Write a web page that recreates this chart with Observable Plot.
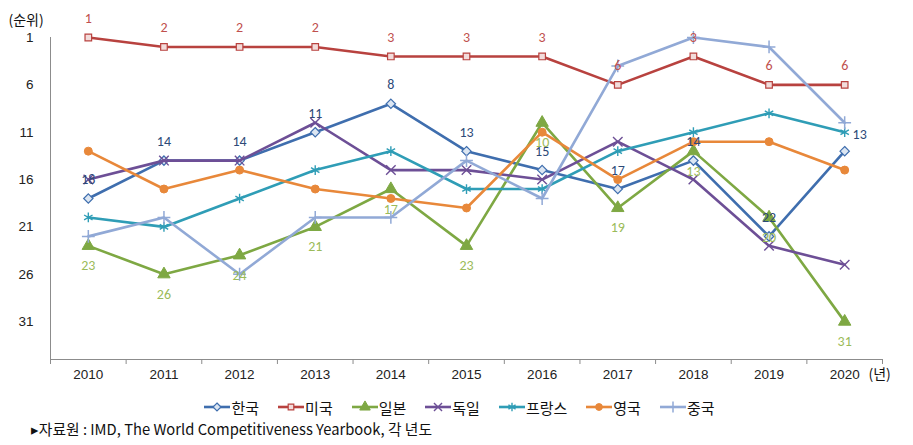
<!DOCTYPE html>
<html>
<head>
<meta charset="utf-8">
<script src="https://cdn.jsdelivr.net/npm/d3@7"></script>
<script src="https://cdn.jsdelivr.net/npm/@observablehq/plot@0.6"></script>
<style>
  body { margin: 0; background: #fff; }
  #wrap { width: 913px; height: 445px; overflow: hidden; position: relative; font-family: "Noto Sans CJK KR", "Noto Sans", sans-serif; }
  #legend { display: flex; justify-content: center; align-items: center; gap: 19px; height: 24px; font-size: 15px; color: #111; padding-left: 6px; }
  #legend .item { display: flex; align-items: center; }
  #legend svg { display: block; margin-right: 1px; }
  #caption { display: block; }
</style>
</head>
<body>
<div id="wrap">
  <div id="chart"></div>
  <div id="legend"></div>
  <svg id="caption" width="913" height="26"></svg>
</div>
<script>
// ---- data ----
const years = [2010, 2011, 2012, 2013, 2014, 2015, 2016, 2017, 2018, 2019, 2020];
const seriesNames = ["한국", "미국", "일본", "독일", "프랑스", "영국", "중국"];
const korea   = [18, 14, 14, 11, 8, 13, 15, 17, 14, 22, 13];
const usa     = [1, 2, 2, 2, 3, 3, 3, 6, 3, 6, 6];
const japan   = [23, 26, 24, 21, 17, 23, 10, 19, 13, 20, 31];
const germany = [16, 14, 14, 10, 15, 15, 16, 12, 16, 23, 25];
const france  = [20, 21, 18, 15, 13, 17, 17, 13, 11, 9, 11];
const uk      = [13, 17, 15, 17, 18, 19, 11, 16, 12, 12, 15];
const china   = [22, 20, 26, 20, 20, 14, 18, 4, 1, 2, 10];
const yTicks  = [1, 6, 11, 16, 21, 26, 31];
const yLabel  = "(순위)";
const xUnit   = "(년)";
const source  = "▸자료원 : IMD, The World Competitiveness Yearbook, 각 년도";

// ---- styles ----
const seriesValues = [korea, usa, japan, germany, france, uk, china];
const styles = [
  {stroke: "#3F6EAE", symbol: "diamond2", fill: "#DCE6F2", r: 4.2, sw: 1.2},
  {stroke: "#B8423F", symbol: "square2", fill: "#F2DCDB", r: 4.2, sw: 1.2},
  {stroke: "#7EA843", symbol: "triangle", fill: "#7EA843", r: 4.6, sw: 1},
  {stroke: "#6D4F96", symbol: "times", fill: "none", r: 4.4, sw: 1.4},
  {stroke: "#2F9DB6", symbol: "asterisk", fill: "none", r: 4.6, sw: 1.4},
  {stroke: "#E8883A", symbol: "circle", fill: "#E8883A", r: 4, sw: 1},
  {stroke: "#91A9D6", symbol: "plus", fill: "none", r: 4.2, sw: 1.5}
];
const labelColors = {"한국": "#2D4A78", "미국": "#C0504D", "일본": "#9BBB59"};

const rows = [];
seriesNames.forEach((name, i) => {
  seriesValues[i].forEach((v, j) => rows.push({name, year: years[j], rank: v}));
});

const axisColor = "#8C8C8C";
const tickFont = "'Liberation Sans', 'Noto Sans', sans-serif";
const boundaries = d3.range(years[0] - 0.5, years[years.length - 1] + 1, 1);

const marks = [
  Plot.ruleX([years[0] - 0.5], {stroke: axisColor, strokeWidth: 1}),
  Plot.ruleY([35], {stroke: axisColor, strokeWidth: 1}),
  Plot.axisX(boundaries, {tickSize: 5, tickFormat: () => "", stroke: axisColor, label: null}),
  Plot.text(years, {x: d => d, frameAnchor: "bottom", dy: 19, text: d => String(d), fontSize: 13.5, fill: "#222", fontFamily: tickFont}),
  Plot.text(yTicks, {y: d => d, frameAnchor: "left", dx: -17, textAnchor: "end", text: d => String(d), fontSize: 13.5, fill: "#222", fontFamily: tickFont}),
  Plot.text([yLabel], {frameAnchor: "top-left", dx: -42, dy: -22, textAnchor: "start", fontSize: 14, fill: "#111", fontFamily: "Noto Sans CJK KR"}),
  Plot.text([xUnit], {frameAnchor: "bottom-right", dx: -14, dy: 19, textAnchor: "start", fontSize: 14, fill: "#111", fontFamily: "Noto Sans CJK KR"})
];

seriesNames.forEach((name, i) => {
  const s = styles[i];
  const data = rows.filter(d => d.name === name);
  marks.push(Plot.line(data, {x: "year", y: "rank", stroke: s.stroke, strokeWidth: 2.6}));
  marks.push(Plot.dot(data, {x: "year", y: "rank", symbol: s.symbol, r: s.r, fill: s.fill,
    stroke: s.stroke, strokeWidth: s.sw}));
});

// data labels
const lab = (name, filt, opts) => Plot.text(rows.filter(d => d.name === name && filt(d)), {
  x: "year", y: "rank", text: d => String(d.rank), fill: labelColors[name], fontSize: 14, ...opts
});
marks.push(lab("한국", d => d.year !== 2020, {dy: -19}));
marks.push(lab("한국", d => d.year === 2020, {dx: 15, dy: -17}));
marks.push(lab("미국", d => true, {dy: -19}));
marks.push(lab("일본", d => true, {dy: 20}));

const chart = Plot.plot({
  width: 913,
  height: 395,
  marginLeft: 50,
  marginRight: 31,
  marginTop: 37,
  marginBottom: 36,
  style: {fontFamily: "Calibri, Carlito, 'Liberation Sans', 'Noto Sans', sans-serif", fontSize: "13px", background: "#fff", overflow: "visible"},
  x: {type: "linear", domain: [years[0] - 0.5, years[years.length - 1] + 0.5], axis: null},
  y: {domain: [1, 35], reverse: true, axis: null},
  marks
});
document.getElementById("chart").appendChild(chart);

// legend
const legend = document.getElementById("legend");
const symMap = {diamond2: d3.symbolDiamond2, square2: d3.symbolSquare2, triangle: d3.symbolTriangle,
  times: d3.symbolTimes, asterisk: d3.symbolAsterisk, circle: d3.symbolCircle, plus: d3.symbolPlus};
seriesNames.forEach((name, i) => {
  const s = styles[i];
  const item = document.createElement("div");
  item.className = "item";
  const svg = d3.create("svg").attr("width", 26).attr("height", 14);
  svg.append("line").attr("x1", 0).attr("x2", 26).attr("y1", 7).attr("y2", 7)
    .attr("stroke", s.stroke).attr("stroke-width", 2.6);
  svg.append("path").attr("transform", "translate(13,7)")
    .attr("d", d3.symbol(symMap[s.symbol], Math.PI * (s.r * 0.85) ** 2)())
    .attr("fill", s.fill).attr("stroke", s.stroke).attr("stroke-width", s.sw);
  item.appendChild(svg.node());
  const t = document.createElement("span");
  t.textContent = name;
  item.appendChild(t);
  legend.appendChild(item);
});

// caption
d3.select("#caption").append("text")
  .attr("x", 31).attr("y", 16)
  .attr("textLength", 401).attr("lengthAdjust", "spacingAndGlyphs")
  .attr("font-size", 15).attr("fill", "#111")
  .attr("font-family", "'Noto Sans CJK KR', sans-serif")
  .text(source);
</script>
</body>
</html>
